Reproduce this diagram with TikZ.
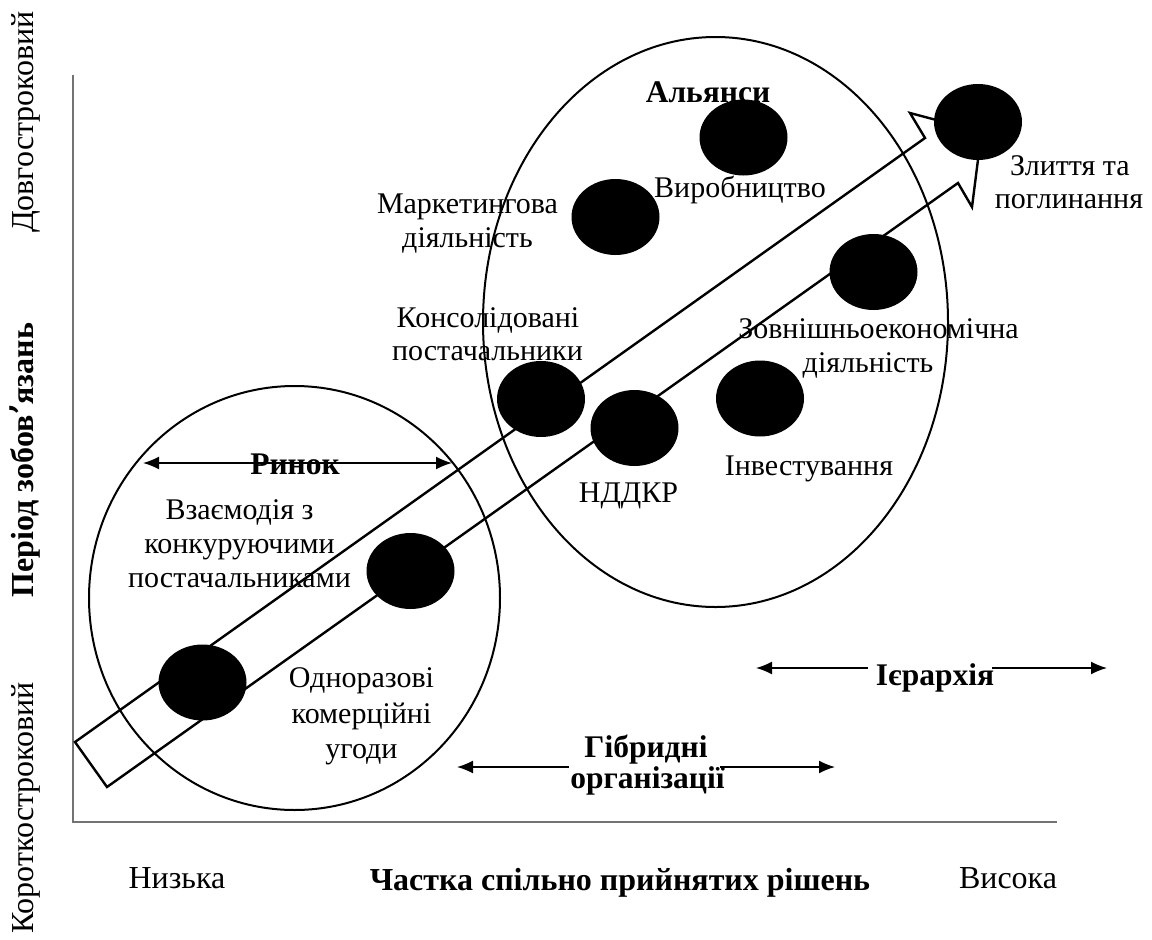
\documentclass[tikz,border=0pt]{standalone}
\usepackage{fontspec}
\setmainfont{Liberation Serif}
\usetikzlibrary{arrows.meta,shapes.geometric}
\tikzset{
  lbl/.style={inner sep=0pt,anchor=base,font=\fontsize{30}{34}\selectfont},
  blbl/.style={lbl,font=\fontsize{31.5}{35}\selectfont\bfseries},
  axlbl/.style={inner sep=0pt,anchor=base,font=\fontsize{32}{36}\selectfont},
  baxlbl/.style={axlbl,font=\fontsize{32}{36}\selectfont\bfseries},
  dot/.style={ellipse,fill=black,draw=none,minimum width=88pt,minimum height=76pt,inner sep=0pt},
  ring/.style={draw=black,line width=2pt},
  band/.style={draw=black,line width=2.4pt,line join=miter},
  axis/.style={draw=black!55,line width=2.6pt},
  harrow/.style={draw=black,line width=1.6pt,-{Latex[length=16pt,width=13pt]}},
  dharrow/.style={draw=black,line width=1.6pt,{Latex[length=16pt,width=13pt]}-{Latex[length=16pt,width=13pt]}}
}
\begin{document}
\begin{tikzpicture}[x=1pt,y=-1pt]
\useasboundingbox (0,0) rectangle (1152,940);
% axes
\coordinate (ytop) at (73,75);
\coordinate (orig) at (73,822);
\coordinate (xend) at (1057,822);
\draw[axis] (ytop) -- (orig) -- (xend);
% big ellipses
\draw[ring] (294.5,598) ellipse [x radius=205.5, y radius=212];
\draw[ring] (715.5,322) ellipse [x radius=232.5, y radius=285];
% big arrow band
\draw[band] (75,742) -- (925,138) -- (910,113) -- (981.5,132) -- (972,207) -- (958,183) -- (107,787) -- cycle;
% black dots
\node[dot] (d1) at (202.5,682.5) {};
\node[dot] (d2) at (410.5,571) {};
\node[dot] (d3) at (541,399) {};
\node[dot] (d4) at (634.5,428) {};
\node[dot] (d5) at (760,398.5) {};
\node[dot] (d6) at (615.5,217) {};
\node[dot] (d7) at (743.5,137.5) {};
\node[dot] (d8) at (873.5,272) {};
\node[dot] (d9) at (978,122) {};
% texts
\node[blbl] (alli) at (708,102) {Альянси};
\node[lbl] (vyr) at (740,197) {Виробництво};
\node[lbl] (mark1) at (467.5,213) {Маркетингова};
\node[lbl] (mark2) at (467.5,247) {діяльність};
\node[lbl] (kons1) at (488,327) {Консолідовані};
\node[lbl] (kons2) at (487.5,360) {постачальники};
\node[lbl] (zovn1) at (878.5,338) {Зовнішньоекономічна};
\node[lbl] (zovn2) at (868,372) {діяльність};
\node[lbl] (inv) at (809,475) {Інвестування};
\node[lbl] (nddkr) at (628.5,502) {НДДКР};
\node[lbl] (zl1) at (1070,175) {Злиття та};
\node[lbl] (zl2) at (1069,208) {поглинання};
\node[blbl] (rynok) at (295,474) {Ринок};
\node[lbl] (vz1) at (239.5,519) {Взаємодія з};
\node[lbl] (vz2) at (239.5,553) {конкуруючими};
\node[lbl] (vz3) at (239.5,587) {постачальниками};
\node[lbl] (od1) at (361.5,687) {Одноразові};
\node[lbl] (od2) at (361.5,723) {комерційні};
\node[lbl] (od3) at (361.5,758) {угоди};
\node[blbl] (hyb1) at (646,757) {Гібридні};
\node[blbl] (hyb2) at (647.5,788) {організації};
\node[blbl] (ier) at (935,685) {Ієрархія};
\node[axlbl] (low) at (177,888) {Низька};
\node[baxlbl] (xt) at (620,890) {Частка спільно прийнятих рішень};
\node[axlbl] (high) at (1008,888) {Висока};
\node[axlbl,rotate=90] (long) at (33,122) {Довгостроковий};
\node[baxlbl,rotate=90] (yt) at (33,460) {Період зобов{\fontspec{DejaVu Serif}\char"02BC}язань};
\node[axlbl,rotate=90] (short) at (33,808) {Короткостроковий};
% range arrows
\coordinate (rl) at (143,463);
\coordinate (rr) at (452,463);
\draw[dharrow] (rl) -- (rr);
\coordinate (hl0) at (569,767);
\coordinate (hl) at (457,767);
\coordinate (hr0) at (720,767);
\coordinate (hr) at (835,767);
\draw[harrow] (hl0) -- (hl);
\draw[harrow] (hr0) -- (hr);
\coordinate (il0) at (868,668);
\coordinate (il) at (756,668);
\coordinate (ir0) at (992,668);
\coordinate (ir) at (1107,668);
\draw[harrow] (il0) -- (il);
\draw[harrow] (ir0) -- (ir);
\end{tikzpicture}
\end{document}
